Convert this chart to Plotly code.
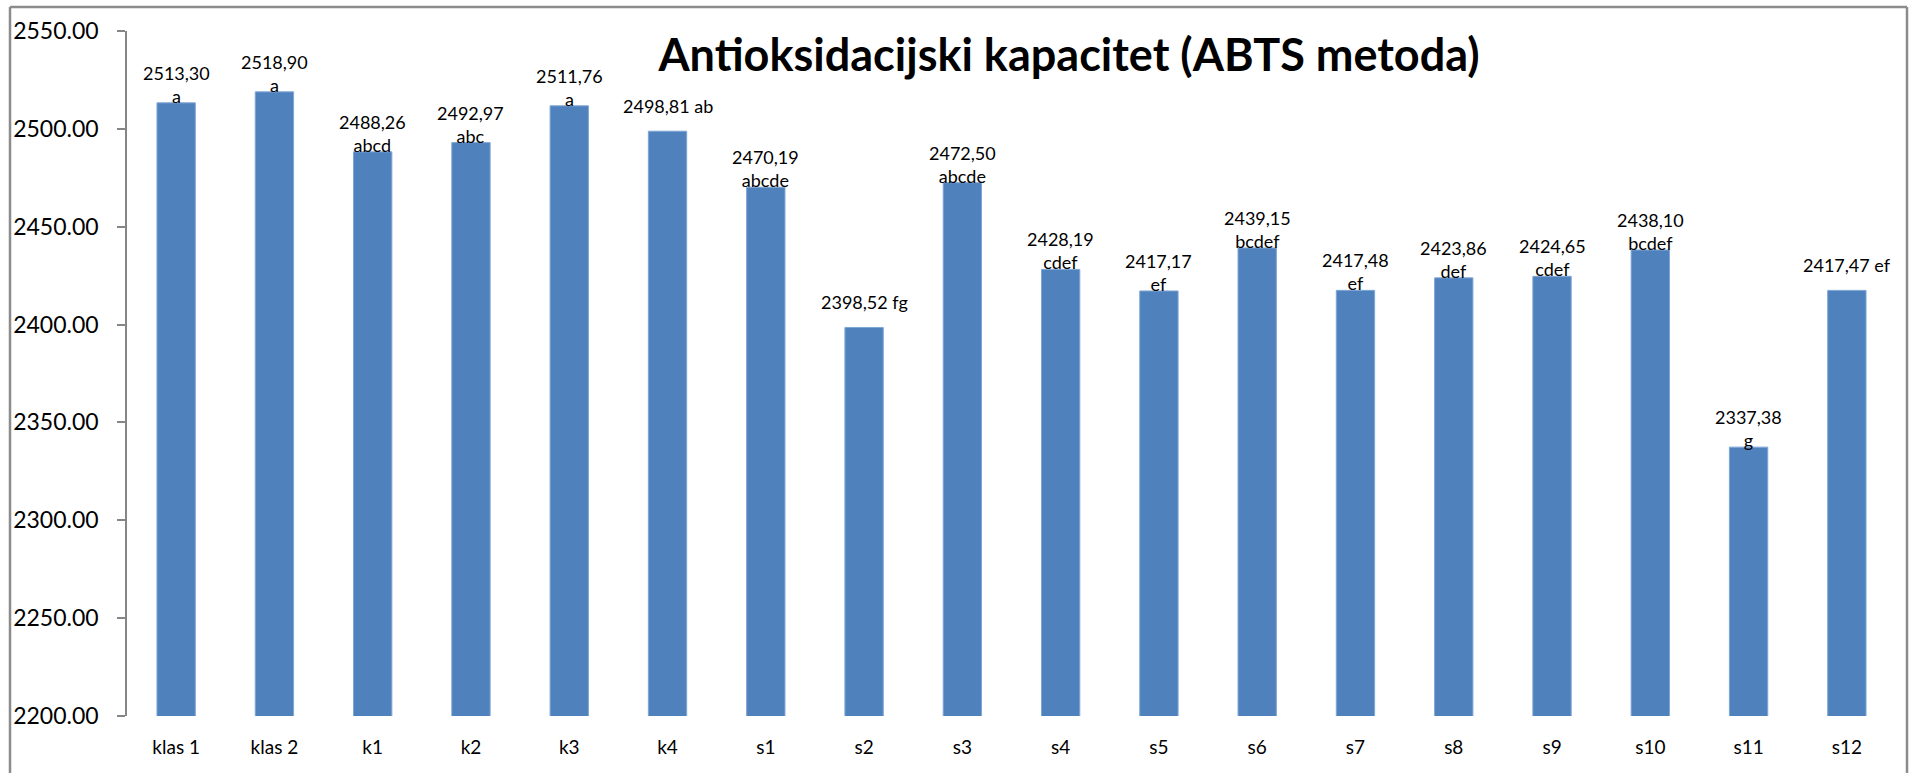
import plotly.graph_objects as go

categories = ["klas 1", "klas 2", "k1", "k2", "k3", "k4", "s1", "s2", "s3",
              "s4", "s5", "s6", "s7", "s8", "s9", "s10", "s11", "s12"]
values = [2513.30, 2518.90, 2488.26, 2492.97, 2511.76, 2498.81, 2470.19, 2398.52,
          2472.50, 2428.19, 2417.17, 2439.15, 2417.48, 2423.86, 2424.65, 2438.10,
          2337.38, 2417.47]
letters = ["a", "a", "abcd", "abc", "a", "ab", "abcde", "fg", "abcde", "cdef",
           "ef", "bcdef", "ef", "def", "cdef", "bcdef", "g", "ef"]
# whether the label wraps onto two lines (as in the reference)
wrapped = [True, True, True, True, True, False, True, False, True, True,
           True, True, True, True, True, True, True, False]
y_ticks = [2200, 2250, 2300, 2350, 2400, 2450, 2500, 2550]
title_text = "Antioksidacijski kapacitet (ABTS metoda)"

FONT = "Lato"
W, H = 1914, 773
L, R, T, B = 127, 18, 31, 57

fig = go.Figure()
fig.add_trace(go.Bar(
    x=categories, y=values, width=0.39,
    marker=dict(color="#4F81BD", line=dict(color="#7EA6D6", width=1)),
    hoverinfo="x+y",
))

for c, v, l, w in zip(categories, values, letters, wrapped):
    num = f"{v:.2f}".replace(".", ",")
    txt = f"{num}<br>{l}" if w else f"{num} {l}"
    fig.add_annotation(x=c, y=v, text=txt, showarrow=False, xanchor="center",
                       yanchor="bottom", yshift=-6 if w else 12,
                       font=dict(family=FONT, size=18, color="black"))

pw = W - L - R
ph = H - T - B
# outer chart frame (Excel chart-area border) - top, left, right edges visible
fx0, fx1 = (10 - L) / pw, (1907 - L) / pw
fy1 = 1 + (T - 7) / ph
fy0 = -(B + 10) / ph
frame = dict(color="#8C8C8C", width=2.5)
fig.add_shape(type="line", xref="paper", yref="paper", x0=fx0, x1=fx1, y0=fy1, y1=fy1, line=frame)
fig.add_shape(type="line", xref="paper", yref="paper", x0=fx0, x1=fx0, y0=fy0, y1=fy1, line=frame)
fig.add_shape(type="line", xref="paper", yref="paper", x0=fx1, x1=fx1, y0=fy0, y1=fy1, line=frame)

fig.update_layout(
    width=W, height=H,
    margin=dict(l=L, r=R, t=T, b=B),
    paper_bgcolor="white", plot_bgcolor="white",
    showlegend=False,
    title=dict(text=f"<b>{title_text}</b>", xref="container", yref="container",
               x=1069 / W, y=1 - 55 / H, xanchor="center", yanchor="middle",
               font=dict(family=FONT, size=45, color="black")),
    font=dict(family=FONT, color="black"),
)
fig.update_yaxes(range=[2200, 2550], tickvals=y_ticks, tickformat=".2f",
                 showgrid=False, zeroline=False, showline=True,
                 linecolor="#868686", linewidth=1.5, ticks="outside", ticklen=8,
                 tickcolor="#868686", tickwidth=1.5,
                 tickfont=dict(family=FONT, size=23, color="black"),
                 ticklabelstandoff=14)
fig.update_xaxes(showgrid=False, zeroline=False, showline=False, ticks="",
                 tickfont=dict(family=FONT, size=19, color="black"),
                 ticklabelstandoff=18)

fig.write_html("out.html", config={"displayModeBar": False},
               post_script="document.body.style.margin='0';"
                           "document.body.style.overflow='hidden';")
